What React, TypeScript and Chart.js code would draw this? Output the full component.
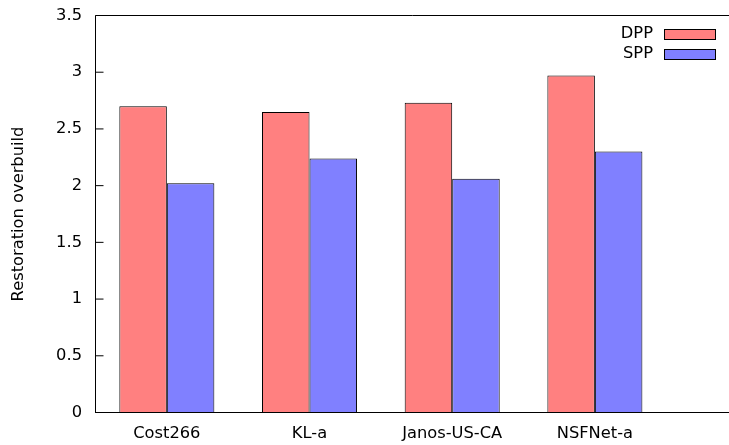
import React, { useEffect, useRef } from "react";
import { Chart, registerables } from "chart.js";

Chart.register(...registerables);

const categories = ["Cost266", "KL-a", "Janos-US-CA", "NSFNet-a"];
const seriesNames = ["DPP", "SPP"];
const dppValues = [2.7, 2.65, 2.73, 2.97];
const sppValues = [2.02, 2.24, 2.06, 2.3];
const yTickValues = [0, 0.5, 1, 1.5, 2, 2.5, 3, 3.5];
const yTitle = "Restoration overbuild";

const FONT = "'DejaVu Sans', sans-serif";
const FS = 16.3;
const RED = "#ff8080";
const BLUE = "#8080ff";

const framePlugin = {
  id: "gnuFrame",
  afterDatasetsDraw(chart: any) {
    const { ctx, chartArea: a, scales } = chart;
    const y = scales.y;
    ctx.save();
    ctx.strokeStyle = "#000";
    ctx.lineWidth = 1;
    ctx.beginPath();
    ctx.moveTo(a.left, a.top);
    ctx.lineTo(a.right, a.top);
    ctx.moveTo(a.left, a.top);
    ctx.lineTo(a.left, a.bottom);
    ctx.moveTo(a.left - 0.5, a.bottom);
    ctx.lineTo(a.right, a.bottom);
    yTickValues.forEach((v) => {
      const p = y.getPixelForValue(v);
      ctx.moveTo(a.left, p);
      ctx.lineTo(a.left + 8, p);
    });
    ctx.stroke();

    // key (gnuplot style: text then sample box)
    ctx.font = `${FS}px ${FONT}`;
    ctx.textAlign = "right";
    ctx.textBaseline = "middle";
    chart.data.datasets.forEach((ds: any, i: number) => {
      const cy = a.top + 18 + i * 20;
      ctx.fillStyle = "#000";
      ctx.fillText(ds.label, a.right - 76, cy);
      const bx = Math.round(a.right - 65) + 0.5;
      const by = Math.round(cy - 5) + 0.5;
      ctx.fillStyle = ds.backgroundColor;
      ctx.fillRect(bx, by, 51, 10);
      ctx.strokeRect(bx, by, 51, 10);
    });
    ctx.restore();
  },
};

export default function App() {
  const ref = useRef<HTMLCanvasElement | null>(null);

  useEffect(() => {
    if (!ref.current) return;
    const chart = new Chart(ref.current, {
      type: "bar",
      data: {
        datasets: [
          {
            label: seriesNames[0],
            data: dppValues.map((v, i) => ({ x: i, y: v })),
            backgroundColor: RED,
            borderColor: "#000",
            borderWidth: 1,
          },
          {
            label: seriesNames[1],
            data: sppValues.map((v, i) => ({ x: i, y: v })),
            backgroundColor: BLUE,
            borderColor: "#000",
            borderWidth: 1,
          },
        ],
      },
      options: {
        animation: false,
        responsive: true,
        maintainAspectRatio: false,
        events: [],
        layout: { padding: { top: 15.5, left: 0, right: 0, bottom: 0 } },
        datasets: {
          bar: { categoryPercentage: 0.666, barPercentage: 1 },
        },
        plugins: {
          legend: { display: false },
          tooltip: { enabled: false },
          title: { display: false },
        },
        scales: {
          x: {
            type: "linear",
            min: -0.5,
            max: 3.94,
            offset: false,
            grid: { display: false, drawTicks: false },
            border: { display: false },
            afterBuildTicks: (s: any) => {
              s.ticks = categories.map((_, i) => ({ value: i }));
            },
            afterFit: (s: any) => {
              s.height = 32.5;
              s.paddingLeft = 0;
              s.paddingRight = 0;
            },
            ticks: {
              autoSkip: false,
              maxRotation: 0,
              padding: 11.6,
              color: "#000",
              font: { family: FONT, size: FS },
              callback: (v: any) => categories[Math.round(Number(v))] ?? "",
            },
          },
          y: {
            type: "linear",
            min: 0,
            max: 3.5,
            grid: { display: false, drawTicks: false },
            border: { display: false },
            afterBuildTicks: (s: any) => {
              s.ticks = yTickValues.map((v) => ({ value: v }));
            },
            afterFit: (s: any) => {
              s.width = 95.5;
              s.paddingTop = 0;
              s.paddingBottom = 0;
            },
            ticks: {
              padding: 13.5,
              color: "#000",
              font: { family: FONT, size: FS },
              callback: (v: any) => String(v),
            },
            title: {
              display: true,
              text: yTitle,
              color: "#000",
              font: { family: FONT, size: FS },
              padding: { top: 8.5, bottom: 0 },
            },
          },
        },
      },
      plugins: [framePlugin],
    });
    return () => chart.destroy();
  }, []);

  return (
    <div
      style={{
        position: "fixed",
        left: 0,
        top: 0,
        width: 729,
        height: 445,
        background: "#fff",
      }}
    >
      <canvas ref={ref} />
    </div>
  );
}
